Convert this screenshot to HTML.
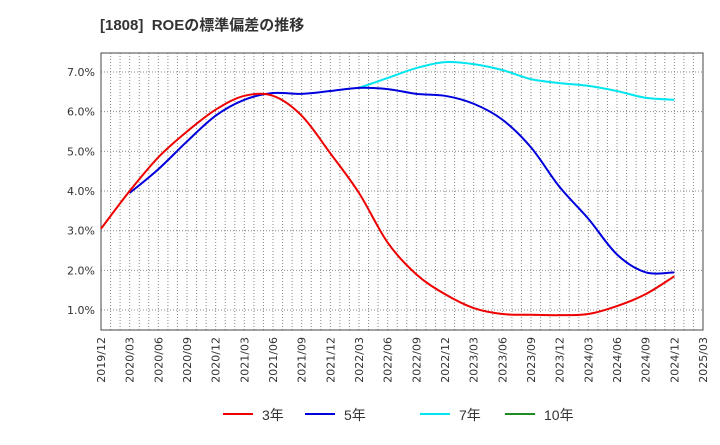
<!DOCTYPE html>
<html><head><meta charset="utf-8"><style>
body{margin:0;background:#fff;font-family:"Liberation Sans","Noto Sans CJK JP",sans-serif}
</style></head><body>
<svg width="720" height="440" xmlns="http://www.w3.org/2000/svg" font-family="Liberation Sans, Noto Sans CJK JP, sans-serif">
<text x="100" y="30" font-size="15" font-weight="bold" fill="#333" xml:space="preserve">[1808]  ROEの標準偏差の推移</text>
<g id="grid"></g><g id="axes"></g><g id="series"></g>
<g id="legend"></g>
</svg>
<script>
const xLabels=["2019/12","2020/03","2020/06","2020/09","2020/12","2021/03","2021/06","2021/09","2021/12","2022/03","2022/06","2022/09","2022/12","2023/03","2023/06","2023/09","2023/12","2024/03","2024/06","2024/09","2024/12","2025/03"];
const yTicks=[1,2,3,4,5,6,7];
const s3=[3.05,4.0,4.85,5.5,6.05,6.4,6.4,5.9,4.95,3.95,2.7,1.9,1.4,1.05,0.9,0.88,0.87,0.9,1.1,1.4,1.85];
const s5=[null,3.95,4.55,5.25,5.9,6.3,6.47,6.45,6.52,6.6,6.57,6.45,6.4,6.2,5.8,5.1,4.1,3.3,2.4,1.95,1.95];
const s7=[null,null,null,null,null,null,null,null,null,6.6,6.85,7.1,7.25,7.2,7.05,6.82,6.72,6.65,6.52,6.35,6.3];
const L=101,R=703,T=53,B=330;
const xs=i=>L+i*(R-L)/21;
const ys=v=>349.7-v*39.67;
const NS="http://www.w3.org/2000/svg";
const TF="DejaVu Sans, Liberation Sans, sans-serif";
function mk(p,tag,a){const e=document.createElementNS(NS,tag);for(const k in a)e.setAttribute(k,a[k]);p.appendChild(e);return e;}
const grid=document.getElementById('grid'),axes=document.getElementById('axes'),ser=document.getElementById('series'),leg=document.getElementById('legend');
mk(grid,'rect',{x:L,y:T,width:R-L,height:B-T,fill:'#fff'});
for(let m=1;m<63;m++){const x=L+m*(R-L)/63;const l=mk(grid,'line',{x1:x,x2:x,y1:T,y2:B,stroke:'#888','stroke-dasharray':'1,2','stroke-width':1});

}
yTicks.forEach(v=>{const y=ys(v);const l=mk(grid,'line',{x1:L,x2:R,y1:y,y2:y,stroke:'#888','stroke-dasharray':'1,2'});


const t=mk(axes,'text',{x:L-6,y:y+4,'text-anchor':'end','font-size':11,fill:'#333','font-family':TF});t.textContent=v.toFixed(1)+'%';

});
const fr=mk(axes,'rect',{x:L,y:T,width:R-L,height:B-T,fill:'none',stroke:'#444'});


xLabels.forEach((s,i)=>{const x=xs(i);const t=mk(axes,'text',{transform:`translate(${x+4},${B+7}) rotate(-90)`,'text-anchor':'end','font-size':11,fill:'#333','font-family':TF});t.textContent=s;

});
function path(arr){const p=[];arr.forEach((v,i)=>{if(v!=null)p.push([xs(i),ys(v)]);});
let d=`M${p[0][0]},${p[0][1]}`;for(let i=0;i<p.length-1;i++){const p0=p[i-1]||p[i],p1=p[i],p2=p[i+1],p3=p[i+2]||p2;
d+=` C${p1[0]+(p2[0]-p0[0])/6},${p1[1]+(p2[1]-p0[1])/6} ${p2[0]-(p3[0]-p1[0])/6},${p2[1]-(p3[1]-p1[1])/6} ${p2[0]},${p2[1]}`;}return d;}
[[s7,'#00e5ee','series-7yr'],[s5,'#0000dd','series-5yr'],[s3,'#ee0000','series-3yr']].forEach(([a,c,n])=>{const e=mk(ser,'path',{d:path(a),fill:'none',stroke:c,'stroke-width':2});

});
[['3年','#ee0000',223],['5年','#0000dd',305],['7年','#00e5ee',420],['10年','#228b22',505]].forEach(([s,c,x])=>{const l=mk(leg,'line',{x1:x,x2:x+30,y1:414,y2:414,stroke:c,'stroke-width':2});


const t=mk(leg,'text',{x:x+39,y:420,'font-size':14,fill:'#333'});t.textContent=s;

});
</script>
</body></html>
